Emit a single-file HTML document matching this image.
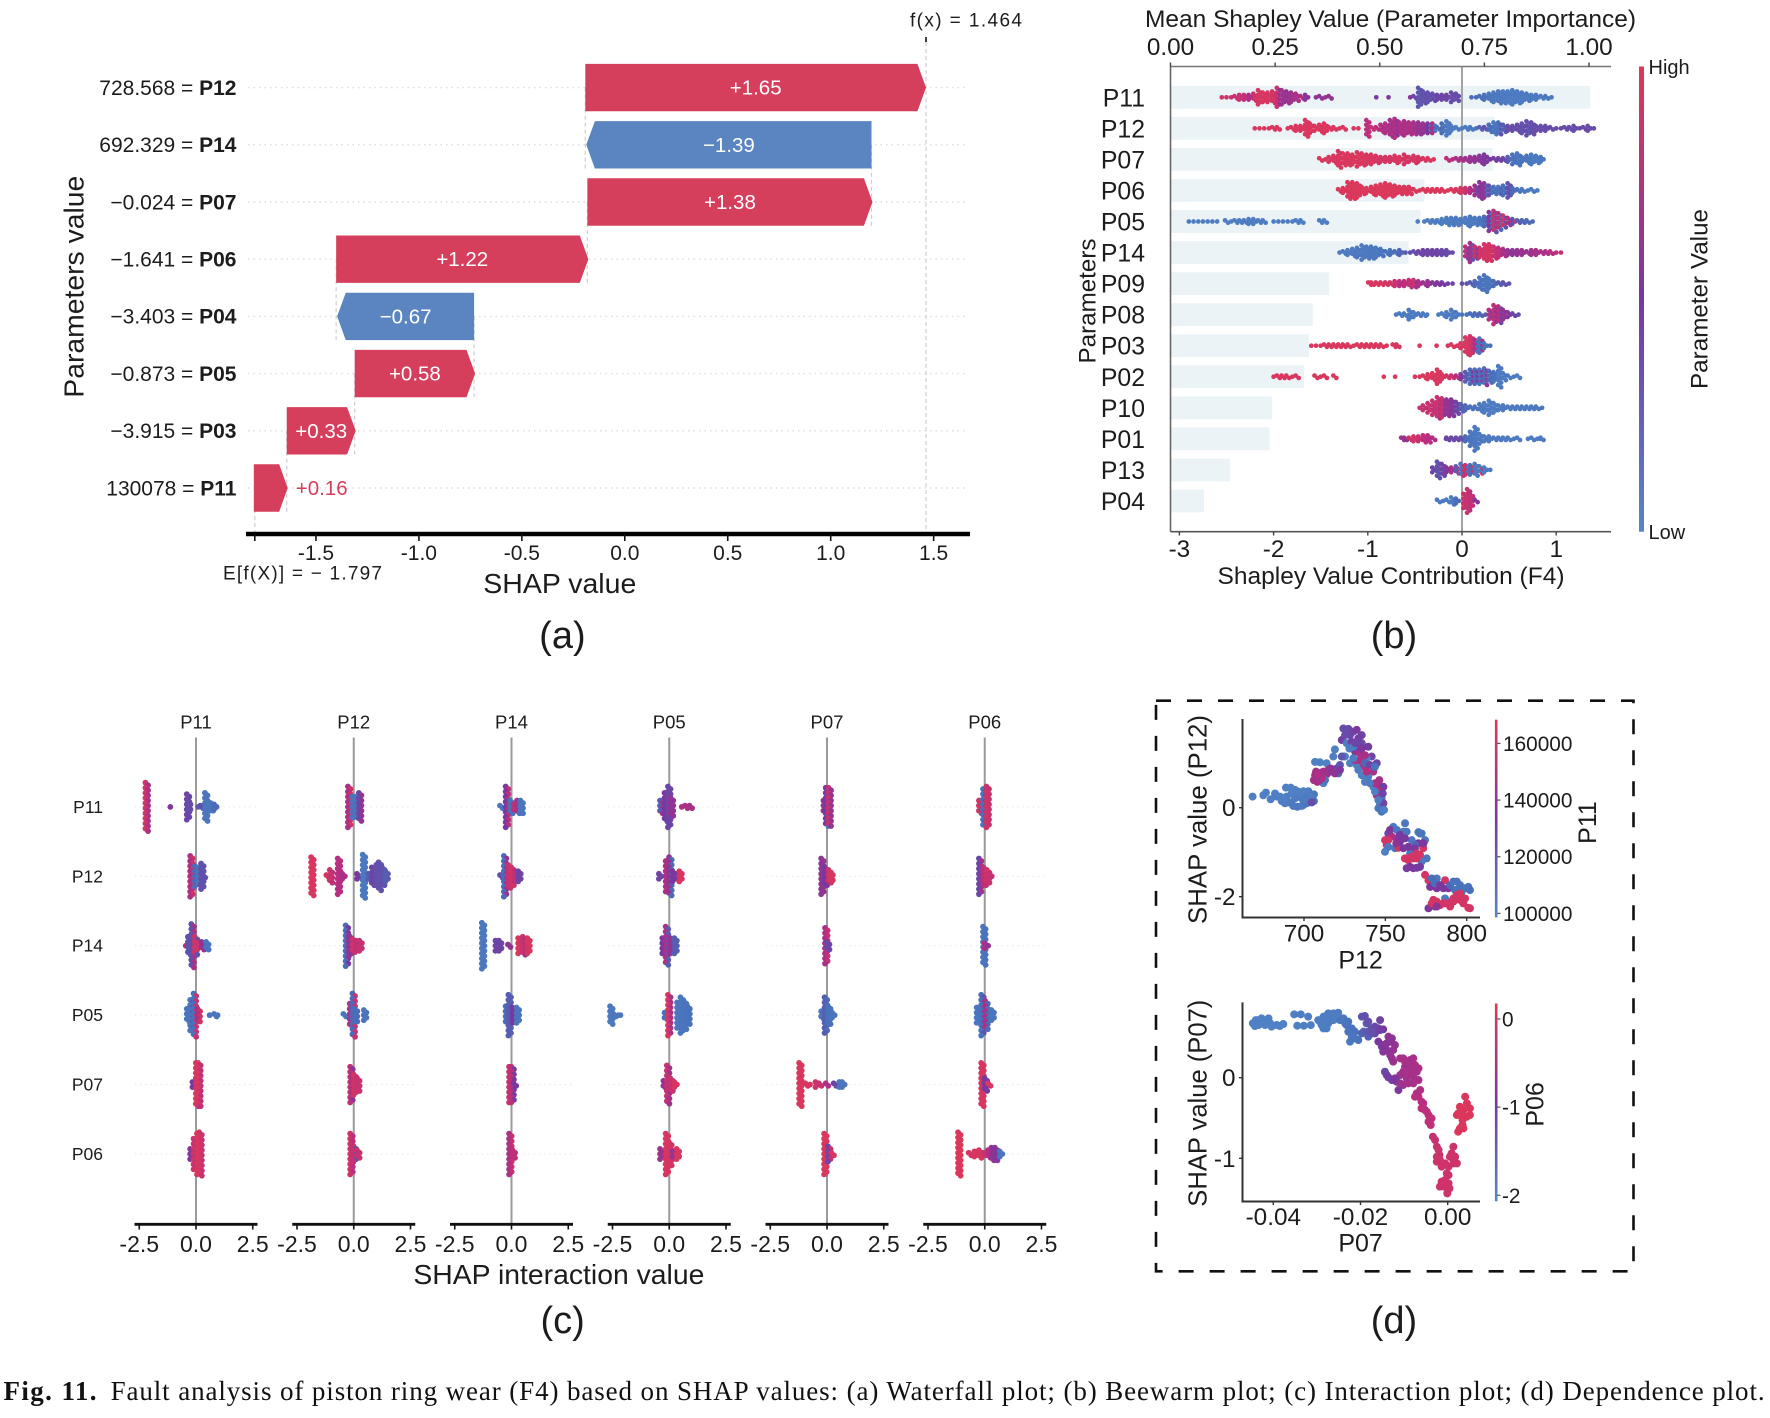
<!DOCTYPE html>
<html lang="en">
<head>
<meta charset="utf-8">
<title>Fault analysis of piston ring wear (F4) based on SHAP values</title>
<style>
html,body{margin:0;padding:0;background:#fff}
svg{display:block}
text{font-family:"Liberation Sans",Arial,sans-serif;fill:#1c1c1c}
.serif{font-family:"Liberation Serif","Times New Roman",serif;fill:#111}
</style>
</head>
<body>
<svg id="fig" xmlns="http://www.w3.org/2000/svg" width="1770" height="1418" viewBox="0 0 1770 1418">
<defs>
<linearGradient id="cbar" x1="0" y1="1" x2="0" y2="0">
<stop offset="0" stop-color="#5885c4"/><stop offset="0.5" stop-color="#7838a0"/><stop offset="1" stop-color="#de3858"/>
</linearGradient>
</defs>
<g id="panel-a">
<text transform="translate(83.5,286.7) rotate(-90)" text-anchor="middle" font-size="28" textLength="222" lengthAdjust="spacingAndGlyphs">Parameters value</text>
<text x="559.8" y="593" text-anchor="middle" font-size="28" textLength="153" lengthAdjust="spacingAndGlyphs">SHAP value</text>
<text x="910" y="26.5" font-size="19" textLength="112">f(x) = 1.464</text>
<text x="223" y="579.5" font-size="19" textLength="159">E[f(X)] = − 1.797</text>
<text x="562.4" y="648" text-anchor="middle" font-size="38">(a)</text>
</g>
<g id="panel-b">
<text x="1145" y="27" font-size="24" textLength="491" lengthAdjust="spacingAndGlyphs">Mean Shapley Value (Parameter Importance)</text>
<text transform="translate(1095.3,301) rotate(-90)" text-anchor="middle" font-size="24" textLength="125" lengthAdjust="spacingAndGlyphs">Parameters</text>
<text x="1217.5" y="584" font-size="24" textLength="347" lengthAdjust="spacingAndGlyphs">Shapley Value Contribution (F4)</text>
<rect x="1639" y="66.5" width="5" height="465.2" fill="url(#cbar)"/>
<text x="1648.5" y="74" font-size="20">High</text>
<text x="1648.5" y="539" font-size="20">Low</text>
<text transform="translate(1707.4,299) rotate(-90)" text-anchor="middle" font-size="24" textLength="180" lengthAdjust="spacingAndGlyphs">Parameter Value</text>
<text x="1394" y="648" text-anchor="middle" font-size="38">(b)</text>
</g>
<g id="panel-c">
<text x="413.4" y="1284" font-size="28" textLength="291" lengthAdjust="spacingAndGlyphs">SHAP interaction value</text>
<text x="562.7" y="1333" text-anchor="middle" font-size="38">(c)</text>
</g>
<g id="panel-d">
<rect x="1156" y="700.7" width="477.5" height="570.6" fill="none" stroke="#111" stroke-width="2.6" stroke-dasharray="15 16"/>
<text transform="translate(1206.4,819.5) rotate(-90)" text-anchor="middle" font-size="26" textLength="209" lengthAdjust="spacingAndGlyphs">SHAP value (P12)</text>
<text x="1360.6" y="968.5" text-anchor="middle" font-size="25">P12</text>
<rect x="1494.9" y="719.7" width="2.6" height="197.7" fill="url(#cbar)"/>
<text transform="translate(1596,822.5) rotate(-90)" text-anchor="middle" font-size="25">P11</text>
<text transform="translate(1206.4,1103.2) rotate(-90)" text-anchor="middle" font-size="26" textLength="207" lengthAdjust="spacingAndGlyphs">SHAP value (P07)</text>
<text x="1360.6" y="1251.5" text-anchor="middle" font-size="25">P07</text>
<rect x="1494.9" y="1003.5" width="2.6" height="197.8" fill="url(#cbar)"/>
<text transform="translate(1543.6,1104.4) rotate(-90)" text-anchor="middle" font-size="25">P06</text>
<text x="1394" y="1333" text-anchor="middle" font-size="38">(d)</text>
</g>
<text class="serif" x="3.5" y="1400" font-size="27" font-weight="bold" textLength="93">Fig. 11.</text>
<text class="serif" x="110.6" y="1400" font-size="27" textLength="1654" lengthAdjust="spacing">Fault analysis of piston ring wear (F4) based on SHAP values: (a) Waterfall plot; (b) Beewarm plot; (c) Interaction plot; (d) Dependence plot.</text>
</svg>
<script>
/* ---------- (a) waterfall data ---------- */
const wfFeatures=['P12','P14','P07','P06','P04','P05','P03','P11'];
const wfFeatureValues=['728.568','692.329','−0.024','−1.641','−3.403','−0.873','−3.915','130078'];
const wfContrib=[1.65,-1.39,1.38,1.22,-0.67,0.58,0.33,0.16];
const wfBase=-1.797;
const wfTicks=[-1.5,-1,-0.5,0,0.5,1,1.5];
const wfTickLabels=['-1.5','-1.0','-0.5','0.0','0.5','1.0','1.5'];

/* ---------- (b) beeswarm data: [shap, dots in stack, hue, optional second hue] ---------- */
const beeNames=['P11','P12','P07','P06','P05','P14','P09','P08','P03','P02','P10','P01','P13','P04'];
const beeImportance=[1.003,0.775,0.77,0.607,0.598,0.569,0.379,0.34,0.331,0.319,0.243,0.237,0.142,0.08];
const beeBottomTicks=[-3,-2,-1,0,1];
const beeTopTicks=[0,0.25,0.5,0.75,1];
const beeTopLabels=['0.00','0.25','0.50','0.75','1.00'];
const beeP11=[[-2.55,1,.92],[-2.5,1,.88],[-2.45,1,.85],[-2.4,2,.85],[-2.35,3,.85],[-2.3,3,.8],[-2.25,3,.72],[-2.2,4,.88],[-2.15,7,.95],[-2.1,5,.95],[-2.05,5,.95],[-2,6,.92],[-1.95,9,.85,.6],[-1.9,7,.65],[-1.85,6,.62],[-1.8,5,.65],[-1.75,4,.7],[-1.7,2,.72],[-1.65,3,.55],[-1.55,1,.58],[-1.5,2,.6],[-1.45,1,.62],[-1.4,2,.6],[-.91,1,.5],[-.78,1,.5],[-.55,1,.55],[-.5,2,.45],[-.45,9,.38],[-.4,6,.4],[-.35,5,.4],[-.3,4,.42],[-.25,3,.45],[-.2,3,.45],[-.15,3,.45],[-.1,5,.42],[-.05,4,.42],[.1,1,.3],[.15,1,.3],[.2,2,.27],[.25,3,.25],[.3,4,.2],[.35,5,.18],[.4,6,.18],[.45,6,.15],[.5,6,.15],[.55,7,.15],[.6,6,.15],[.65,5,.15],[.7,4,.16],[.75,3,.16],[.8,3,.17],[.85,2,.17],[.9,2,.18],[.95,1,.18]];
const beeP12=[[-2.2,1,.97],[-2.15,1,.97],[-2.1,1,.97],[-2.05,1,.97],[-2,2,.97],[-1.95,2,.97],[-1.85,1,.97],[-1.8,2,.97],[-1.75,3,.97],[-1.7,3,.97],[-1.65,8,.97],[-1.6,5,.97],[-1.55,3,.97],[-1.5,4,.97],[-1.45,5,.97],[-1.4,2,.97],[-1.35,2,.97],[-1.3,1,.97],[-1.25,2,.97],[-1.15,1,.95],[-1.1,1,.95],[-1,8,.78],[-.95,2,.85],[-.9,2,.8],[-.85,4,.72],[-.8,5,.72],[-.75,8,.68],[-.7,9,.72,.55],[-.65,6,.72],[-.6,7,.7],[-.55,6,.72],[-.5,6,.68],[-.45,6,.62],[-.4,5,.6],[-.35,5,.5,.25],[-.3,5,.7,.2],[-.25,2,.25],[-.2,5,.3,.15],[-.15,7,.15],[-.1,3,.15],[-.05,2,.14],[0,1,.15],[.05,2,.16],[.1,2,.16],[.15,1,.2],[.2,2,.35],[.25,2,.4],[.3,4,.3],[.35,6,.22],[.4,6,.25,.4],[.45,4,.35],[.5,3,.42],[.55,3,.42],[.6,4,.42],[.65,5,.4],[.7,7,.42,.35],[.75,6,.42],[.8,3,.42],[.85,3,.42],[.9,3,.42],[.95,2,.42],[1,1,.42],[1.05,1,.42],[1.1,2,.42],[1.15,2,.42],[1.2,3,.42],[1.25,1,.42],[1.3,2,.42],[1.35,3,.42],[1.4,1,.42]];
const beeP07=[[-1.5,2,.97],[-1.45,1,.97],[-1.4,3,.97],[-1.35,4,.97],[-1.3,8,.97],[-1.25,6,.97],[-1.2,6,.97],[-1.15,5,.97],[-1.1,7,.97],[-1.05,6,.97],[-1,5,.96],[-.95,5,.95],[-.9,4,.95],[-.85,3,.93],[-.8,3,.93],[-.75,3,.93],[-.7,4,.95],[-.65,3,.97],[-.6,5,.93],[-.55,3,.93],[-.5,4,.95],[-.45,3,.93],[-.4,2,.95],[-.35,2,.97],[-.3,1,.97],[-.15,2,.8],[-.1,1,.75],[-.05,2,.7],[0,2,.68],[.05,2,.65],[.1,3,.62],[.15,3,.6],[.2,4,.55],[.25,5,.52],[.3,1,.5],[.35,2,.48],[.4,2,.46],[.45,2,.45],[.5,3,.35],[.55,5,.25],[.6,6,.2],[.65,3,.22],[.7,4,.2],[.75,5,.18],[.8,4,.18],[.85,3,.18]];
const beeP06=[[-1.3,2,.98],[-1.25,3,.98],[-1.2,8,.98],[-1.15,8,.98],[-1.1,7,.98],[-1.05,4,.98],[-1,3,.98],[-.95,4,.98],[-.9,5,.98],[-.85,6,.98],[-.8,7,.98],[-.75,6,.98],[-.7,5,.98],[-.65,4,.98],[-.6,4,.98],[-.55,4,.98],[-.5,2,.98],[-.45,1,.98],[-.4,2,.98],[-.35,2,.98],[-.3,2,.98],[-.25,2,.98],[-.2,2,.98],[-.15,1,.98],[-.1,2,.98],[-.05,2,.95],[0,3,.95],[.05,3,.85],[.1,3,.72],[.15,5,.65,.4],[.2,8,.55],[.25,7,.6,.25],[.3,5,.4,.2],[.35,4,.25],[.4,4,.22,.35],[.45,5,.28],[.5,7,.4],[.55,3,.3],[.6,2,.2],[.65,2,.18],[.7,1,.16],[.75,2,.16],[.8,1,.15]];
const beeP05=[[-2.9,1,.12],[-2.85,1,.12],[-2.8,1,.12],[-2.75,1,.12],[-2.7,1,.12],[-2.65,1,.12],[-2.6,1,.12],[-2.5,2,.12],[-2.45,1,.12],[-2.4,2,.12],[-2.35,2,.12],[-2.3,2,.12],[-2.25,3,.12],[-2.2,3,.12],[-2.15,2,.12],[-2.1,2,.12],[-2,1,.12],[-1.95,1,.12],[-1.9,1,.12],[-1.85,1,.12],[-1.8,1,.12],[-1.75,2,.12],[-1.7,2,.12],[-1.5,2,.12],[-1.45,2,.12],[-.47,1,.12],[-.4,1,.12],[-.35,2,.12],[-.3,2,.13],[-.25,2,.13],[-.2,3,.13],[-.15,4,.14],[-.1,4,.14],[-.05,4,.15],[0,3,.15],[.05,4,.15],[.1,5,.16],[.15,4,.17],[.2,4,.2],[.25,5,.3],[.3,9,.55,.25],[.35,10,.85,.4],[.4,8,.8,.3],[.45,6,.9,.4],[.5,4,.7],[.55,3,.4,.9],[.6,2,.35],[.65,2,.32],[.7,2,.3],[.75,1,.3]];
const beeP14=[[-1.3,1,.15],[-1.25,2,.15],[-1.2,3,.15],[-1.15,4,.16],[-1.1,5,.16],[-1.05,7,.17],[-1,6,.17],[-.95,6,.18],[-.9,5,.18],[-.85,4,.2],[-.8,2,.22],[-.75,3,.25],[-.7,2,.3],[-.65,3,.32],[-.6,1,.35],[-.55,1,.4],[-.5,2,.42],[-.45,2,.45],[-.4,3,.45],[-.35,3,.45],[-.3,3,.45],[-.25,3,.45],[-.2,3,.44],[-.15,3,.42],[-.1,1,.42],[.05,6,.8,.45],[.1,9,.65,.4],[.15,6,.9,.5],[.2,5,.9],[.25,8,.92],[.3,8,.93],[.35,6,.85],[.4,5,.78],[.45,4,.68],[.5,3,.6],[.55,3,.58],[.6,3,.6],[.65,3,.62],[.7,2,.65],[.75,3,.65],[.8,3,.68],[.85,2,.7],[.9,2,.72],[.95,2,.75],[1,1,.78],[1.05,1,.82]];
const beeP09=[[-.98,2,.95],[-.95,2,.95],[-.9,2,.95],[-.85,2,.95],[-.8,2,.93],[-.75,2,.9],[-.7,3,.85],[-.65,3,.75],[-.6,3,.78],[-.55,4,.82],[-.5,4,.85,.65],[-.45,3,.7],[-.4,2,.65],[-.35,3,.6],[-.3,2,.55],[-.25,2,.52],[-.2,2,.5],[-.15,1,.48],[-.1,1,.45],[0,1,.4],[.05,1,.38],[.1,2,.36],[.15,3,.3],[.2,6,.25],[.25,8,.22],[.3,5,.2],[.35,3,.3],[.4,2,.35],[.45,2,.38],[.5,1,.4]];
const beeP08=[[-.7,1,.14],[-.65,2,.14],[-.6,2,.14],[-.55,5,.14],[-.5,3,.14],[-.45,2,.14],[-.4,2,.14],[-.37,1,.14],[-.25,1,.13],[-.2,2,.13],[-.15,3,.13],[-.1,5,.12],[-.05,3,.14],[0,1,.2],[.05,1,.25],[.1,2,.28],[.15,2,.3],[.2,2,.32],[.25,1,.35],[.3,5,.75,.45],[.35,9,.8,.55],[.4,8,.75,.45],[.45,5,.6],[.5,3,.55],[.55,2,.45],[.6,1,.4]];
const beeP03=[[-1.6,1,.97],[-1.55,1,.97],[-1.5,1,.97],[-1.45,2,.97],[-1.4,2,.97],[-1.35,2,.97],[-1.3,2,.97],[-1.25,2,.97],[-1.2,2,.97],[-1.15,1,.97],[-1.1,2,.97],[-1.05,2,.97],[-1,2,.97],[-.95,2,.97],[-.9,2,.97],[-.85,2,.97],[-.8,1,.97],[-.72,2,.97],[-.68,2,.97],[-.45,1,.97],[-.27,1,.97],[-.15,1,.97],[-.1,2,.97],[-.05,1,.97],[0,3,.95],[.05,8,.95],[.1,9,.92,.85],[.15,6,.7,.25],[.2,7,.25,.7],[.25,3,.2],[.3,1,.25]];
const beeP02=[[-2,1,.97],[-1.95,2,.97],[-1.9,2,.97],[-1.85,2,.97],[-1.8,1,.97],[-1.75,2,.97],[-1.55,2,.97],[-1.5,1,.97],[-1.45,2,.97],[-1.35,2,.97],[-.83,1,.97],[-.71,1,.97],[-.5,1,.97],[-.45,1,.97],[-.4,2,.97],[-.35,3,.97],[-.3,4,.97],[-.25,7,.97],[-.2,3,.96],[-.15,2,.92],[-.1,2,.85],[-.05,2,.75],[0,3,.55],[.05,5,.35],[.1,7,.3,.6],[.15,7,.3,.5],[.2,7,.25,.65],[.25,8,.3,.6],[.3,6,.3],[.35,5,.25],[.4,10,.15],[.45,4,.15],[.5,2,.14],[.55,1,.13],[.6,2,.12]];
const beeP10=[[-.45,1,.85],[-.4,3,.85],[-.35,5,.85],[-.3,7,.85],[-.25,10,.87,.7],[-.2,9,.85,.6],[-.15,8,.6],[-.1,8,.55],[-.05,6,.45],[0,4,.35],[.05,3,.3],[.1,2,.25],[.15,2,.2],[.2,4,.18],[.25,5,.15],[.3,7,.13],[.35,5,.13],[.4,3,.14],[.45,3,.15],[.5,2,.15],[.55,2,.16],[.6,2,.16],[.65,2,.17],[.7,2,.17],[.75,2,.18],[.8,2,.18],[.85,1,.18]];
const beeP01=[[-.63,2,.65],[-.6,2,.6],[-.55,2,.9],[-.5,3,.92],[-.45,3,.85],[-.4,4,.78],[-.35,4,.75],[-.3,2,.72],[-.17,1,.45],[-.15,2,.45],[-.1,2,.43],[-.05,2,.42],[0,2,.4],[.05,3,.3],[.1,7,.2],[.15,11,.17],[.2,5,.16],[.25,3,.16],[.3,3,.15],[.35,2,.15],[.4,2,.15],[.45,2,.15],[.5,2,.15],[.55,1,.15],[.6,2,.15],[.7,1,.15],[.75,2,.15],[.8,1,.15],[.83,1,.15],[.85,2,.15]];
const beeP13=[[-.3,3,.45],[-.25,8,.4],[-.2,6,.45],[-.15,3,.55],[-.1,3,.7],[-.05,4,.35,.8],[0,6,.2,.85],[.05,5,.85,.2],[.1,5,.3,.85],[.15,6,.18],[.2,4,.16,.9],[.25,3,.15],[.3,1,.16]];
const beeP04=[[-.25,2,.15],[-.2,1,.15],[-.15,2,.15],[-.1,4,.15],[-.05,3,.3],[.03,7,.85],[.07,11,.88,.75],[.1,7,.82],[.15,2,.55]];
const beeRows=[beeP11,beeP12,beeP07,beeP06,beeP05,beeP14,beeP09,beeP08,beeP03,beeP02,beeP10,beeP01,beeP13,beeP04];

/* ---------- (c) interaction data: one array per row/column cell ---------- */
const intNames=['P11','P12','P14','P05','P07','P06'];
const intTicks=[-2.5,0,2.5];
const intTickLabels=['-2.5','0.0','2.5'];
const c11=[[-2.17,20,.9,.7],[-1.13,1,.55],[-.35,11,.45],[-.3,5,.42],[.1,1,.35],[.25,2,.4],[.45,12,.2],[.55,4,.2],[.7,4,.2],[.85,3,.3]];
const c12=[[-.2,17,.7,.9],[0,9,.3,.85],[.15,8,.2,.5],[.28,11,.4],[.35,2,.4]];
const c14=[[-.45,1,.7],[-.3,8,.4],[-.15,18,.4,.7],[0,8,.9,.4],[.15,3,.9],[.3,4,.6],[.5,4,.2]];
const c15=[[-.35,6,.2],[-.2,13,.2,.4],[-.05,18,.25,.85],[.12,6,.7,.9],[.6,1,.2],[.85,2,.2],[.95,1,.2]];
const c17=[[-.1,3,.5],[.05,18,.95,.85],[.15,18,.97,.8]];
const c16=[[-.2,5,.55],[-.05,13,.9,.6],[.1,17,.95],[.2,18,.95,.85]];
const c21=[[-.2,17,.7,.9],[0,9,.2,.85],[.1,9,.2],[.28,12,.45,.6]];
const c22=[[-1.82,16,.97],[-1.15,2,.95],[-1,6,.9,.8],[-.65,15,.75],[-.45,3,.7],[.2,3,.5],[.45,18,.18],[.7,3,.35],[.85,8,.45],[1.05,10,.4],[1.15,12,.4],[1.3,8,.4],[1.45,5,.35]];
const c24=[[-.3,17,.3,.5],[-.15,9,.6],[0,6,.9],[.15,5,.8],[.3,5,.85]];
const c25=[[-.4,2,.2],[-.12,10,.7,.9],[0,18,.3,.85],[.1,6,.3],[.5,5,.2]];
const c27=[[-.1,15,.8,.55],[.05,9,.9],[.2,6,.85]];
const c26=[[-.1,17,.9,.75],[.05,7,.85,.4],[.2,4,.85]];
const c41=[[-.45,2,.2],[-.2,17,.5,.8],[0,6,.25],[.15,3,.8],[.3,6,.7,.3],[.45,6,.2]];
const c42=[[-.45,2,.4],[-.28,17,.3,.6],[-.1,10,.85],[.05,8,.9],[.2,5,.8],[.35,5,.45]];
const c44=[[-1.25,19,.18],[-.65,5,.45],[-.5,5,.45],[-.1,2,.6],[.35,7,.95],[.55,8,.85,.6],[.75,7,.95]];
const c45=[[-.2,8,.3],[-.08,17,.35],[.1,7,.5],[.28,7,.2]];
const c47=[[-.05,15,.85,.65],[.05,15,.8,.5],[.15,2,.5]];
const c46=[[-.05,17,.7,.85],[.1,4,.8]];
const c51=[[-.35,6,.35,.7],[-.15,12,.5],[0,17,.45],[.12,8,.6],[.55,1,.72],[.75,2,.7],[.95,2,.68]];
const c52=[[-.4,3,.45],[-.1,13,.7,.85],[.05,16,.6,.3],[.2,5,.5],[.5,5,.95]];
const c54=[[-.25,7,.5],[-.1,16,.7,.35],[.1,7,.6],[.28,7,.35]];
const c55=[[-2.55,8,.18],[-2.4,2,.18],[-2.25,1,.18],[-2.15,1,.18],[-.15,3,.25],[0,17,.95,.7],[.4,11,.2],[.55,15,.2],[.7,12,.22],[.85,8,.25]];
const c57=[[-.2,4,.6],[-.05,16,.85,.65],[.1,6,.85],[.28,3,.95]];
const c56=[[-.35,5,.65],[-.1,17,.95],[.05,10,.93],[.2,3,.6],[.38,5,.95]];
const c71=[[-.1,6,.6],[0,16,.5,.2],[.12,16,.85,.6]];
const c72=[[-.2,15,.6],[-.05,8,.5],[.12,6,.9],[.2,4,.95]];
const c74=[[-.03,15,.7,.85],[.05,4,.45]];
const c75=[[-.2,4,.2],[-.05,15,.35,.3],[.1,8,.25],[.28,3,.2]];
const c77=[[-1.17,18,.97],[-.9,2,.95],[-.75,1,.95],[-.45,3,.9],[-.3,2,.85],[0,2,.7],[.35,2,.45],[.6,3,.2],[.72,3,.2]];
const c76=[[-.07,17,.97],[.1,7,.45,.85],[.25,2,.95]];
const c61=[[-.2,6,.9],[-.02,15,.25,.6],[.13,17,.9,.85]];
const c62=[[-.2,15,.45,.7],[0,8,.8],[.15,6,.9],[.25,3,.85]];
const c64=[[-.02,16,.2,.25],[.05,3,.7],[.15,1,.6]];
const c65=[[-.3,7,.2],[-.1,17,.25,.4],[.08,12,.7,.3],[.35,5,.2]];
const c67=[[-.1,18,.95],[.05,6,.5],[.2,2,.95]];
const c66=[[-1.12,18,.98],[-.65,2,.95],[-.4,3,.95],[-.2,4,.95],[0,2,.85],[.2,4,.75],[.35,6,.6],[.5,6,.55],[.72,3,.2]];
const intColumnP11=[c11,c12,c14,c15,c17,c16];
const intColumnP12=[c21,c22,c24,c25,c27,c26];
const intColumnP14=[c41,c42,c44,c45,c47,c46];
const intColumnP05=[c51,c52,c54,c55,c57,c56];
const intColumnP07=[c71,c72,c74,c75,c77,c76];
const intColumnP06=[c61,c62,c64,c65,c67,c66];
const intColumns=[intColumnP11,intColumnP12,intColumnP14,intColumnP05,intColumnP07,intColumnP06];

/* ---------- (d) dependence data ---------- */
const depTopXTicks=[700,750,800];
const depTopYTicks=[0,-2];
const depTopCbarTicks=[160000,140000,120000,100000];
const depP12=[668.4,675,676.6,679.5,682.2,683.2,686.3,688.9,691.8,689.3,691.4,695.9,696.5,699.6,702.7,706.1,706.1,702.7,699.6,694.5,688.3,698.6,703.7,
706.8,709.8,713.9,719,718,724.2,711.9,
706.8,707.8,709.8,711.9,713.9,716,718,720.1,722.1,709.8,712.9,707.4,710.9,715,721.1,
725.8,724.2,727.3,723.2,730.3,732.4,726.2,729.3,732.4,735.5,735.5,739.5,731.4,734.4,725.2,728.3,732.4,736.5,741.6,738.5,744.7,742.6,739.5,737.5,742.6,745.7,748.8,744.7,747.7,746.7,747.7,745.7,748.8,743.6,746.7,735.5,731.4,737.5,730.3,
749.8,750.8,751.8,754.9,762.1,757,761.1,749.8,755.9,758,761.1,766.2,771.3,770.3,772.3,770.3,774.4,765.2,764.1,767.2,771.3,775.4,772.3,763.1,767.2,771.3,753.9,759,764.1,773.3,
774.4,776.5,781.6,777.5,781.6,786.7,793.9,801,788.7,792.8,796.9,802,779.5,783.6,789.8,776.5,780.5,801,795.8,786.7,791.9,799,793.9,785.7,
685.2,692.4,694.5,690.4,693.4,698.6,701.6,704.7,702.7,697.5,700.6,704.7,687.3,
708.8,710.9,713.5,716.4,719,722.1,706.1,708.2,711.9,723.2,
728.3,725.2,733.4,731.4,727.9,734.4,737.5,740.5,743.6,733.4,738.5,740.5,743.6,746.3,748.4,745.7,749.2,730.3,735.5,
751.8,752.9,757,759,763.1,762.1,756.7,751.8,768.2,768.2,773.4,766.2,769.3,762,769.3,765.2,769.3,
778.5,780.5,783.6,785.7,789.8,795.9,799,791.8,781.6,786.7,791.8,795.9,797.9,790.8,778.5,781.6,802];
const depP12Shap=[.25,.28,.34,.19,.32,.25,.15,.45,.45,.25,.12,.02,.36,.37,.37,.30,.15,.12,.06,.21,.10,.21,.17,
1.03,1.02,1,1.31,1.15,1.15,.55,
.73,.66,.70,.73,.75,.81,.85,.88,.96,.62,.62,.81,.79,.85,.77,
1.75,1.78,1.77,1.52,1.71,1.75,1.45,1.48,1.37,1.63,1.45,1.37,1.26,1.22,1.15,1,.96,.92,1.15,1.11,1,.81,.70,.58,.47,.51,.47,.28,.21,.06,-.09,-.01,.10,.55,.37,.73,1.07,1.18,1.37,
-.73,-.84,-.58,-.43,-.35,-.69,-.54,-.99,-.91,-.90,-.91,-.73,-.58,-.55,-.58,-.80,-.73,-1.03,-1.18,-1.14,-1.06,-1.14,-1.21,-1.36,-1.36,-1.33,-.65,-.76,-.88,-.91,
-1.51,-1.63,-1.59,-1.78,-1.81,-1.63,-1.66,-1.78,-1.81,-1.85,-1.89,-1.85,-2.07,-2.19,-2.22,-2.26,-2.22,-2.25,-2.07,-2.04,-2.11,-2.04,-1.96,-2.15,
.25,.32,.40,.12,.04,.04,.10,.28,.25,.32,.22,.12,.21,
.75,.66,.81,.88,.77,.85,.62,.58,.81,1.15,
1.63,1.63,1.56,1.45,1.33,1.07,1,.96,.92,.85,.81,.55,.36,.62,.32,.17,-.05,1.11,1.33,
-.73,-.50,-.50,-.61,-.54,-.69,-.80,-.88,-.84,-.91,-.80,-1.10,-1.14,-1.14,-1.03,-1.33,-1.35,
-1.59,-1.70,-1.74,-1.81,-1.74,-1.74,-1.81,-1.66,-2.11,-2.15,-2.04,-1.93,-2.15,-2.11,-2.15,-2.22,-2.26];
const depP12Hue=[104000,104000,104000,106000,104000,106000,108000,104000,104000,108000,108000,112000,104000,104000,106000,112000,116000,118000,114000,108000,108000,110000,125000,
104000,104000,104000,104000,104000,104000,106000,
148000,135000,145000,140000,146000,135000,142000,130000,125000,138000,112000,145000,150000,142000,120000,
130000,128000,128000,132000,130000,135000,108000,132000,145000,130000,128000,132000,135000,148000,106000,104000,104000,148000,130000,106000,130000,146000,108000,106000,106000,146000,132000,146000,110000,112000,114000,112000,130000,148000,148000,104000,150000,146000,108000,
163000,162000,130000,110000,112000,134000,110000,104000,112000,163000,134000,112000,114000,114000,114000,134000,112000,112000,163000,163000,163000,112000,110000,133000,133000,133000,148000,134000,134000,163000,
163000,163000,112000,135000,135000,163000,115000,116000,135000,116000,118000,118000,163000,163000,163000,135000,135000,163000,163000,110000,163000,163000,163000,163000,
106000,104000,104000,108000,110000,110000,112000,108000,106000,104000,108000,128000,106000,
150000,148000,145000,140000,140000,135000,146000,146000,145000,125000,
130000,128000,132000,130000,108000,148000,120000,130000,115000,106000,150000,108000,106000,146000,130000,108000,106000,108000,135000,
163000,135000,112000,133000,112000,133000,140000,110000,120000,135000,135000,163000,163000,163000,163000,135000,133000,
118000,118000,135000,135000,120000,116000,116000,116000,163000,163000,163000,163000,163000,163000,163000,140000,163000];
const depBottomXTicks=[-0.04,-0.02,0];
const depBottomXLabels=['-0.04','-0.02','0.00'];
const depBottomYTicks=[0,-1];
const depBottomCbarTicks=[0,-1,-2];
const depP07=[-.0447,-.0440,-.0434,-.0427,-.0419,-.0411,-.0404,-.0392,-.0377,-.0442,-.0423,-.0352,-.0337,-.0320,-.0345,-.0330,-.0314,-.0297,-.0285,-.0274,-.0262,-.0251,-.0289,-.0278,-.0266,-.0255,-.0281,-.0271,-.0239,-.0228,-.0220,-.0213,-.0224,-.0205,-.0216,-.0232,-.0197,-.0190,-.0186,-.0174,-.0155,-.0159,-.0148,-.0182,-.0193,-.0167,-.0159,-.0148,-.0136,-.0128,-.0148,-.0132,-.0121,-.0125,-.0102,-.0086,-.0075,-.0067,-.0098,-.0083,-.0067,-.0109,-.0094,-.0079,-.0102,-.0144,-.0140,-.0128,-.0117,-.0113,-.0071,-.0075,-.0060,-.0052,-.0044,-.0039,-.0056,-.0037,-.0034,-.0025,-.0019,-.0025,-.0014,.0013,.0009,.0021,.0002,-.0002,-.0014,.0002,-.0018,-.0001,.0013,.0040,.0028,.0051,.0021,.0044,.0036,.0034,.0024,.0036,
-.0430,-.0407,-.0385,-.0434,-.0293,-.0285,-.0274,-.0262,-.0278,-.0266,-.0258,-.0285,-.0247,-.0235,-.0228,-.0220,-.0213,-.0197,-.0182,-.0167,-.0182,-.0174,-.0155,-.0151,-.0140,-.0132,-.0140,-.0125,-.0128,-.0109,-.0098,-.0086,-.0079,-.0071,-.0090,-.0102,-.0079,-.0090,-.0109,-.0136,-.0121,-.0063,-.0067,-.0056,-.0060,-.0048,-.0041,-.0044,-.0029,-.0021,-.0025,-.0018,-.0006,.0005,.0017,.0013,.0002,-.0006,-.0008,.0004,.0044,.0024,.0032,.0051,.0028,.0034];
const depP07Shap=[.674,.715,.654,.736,.654,.736,.633,.654,.666,.641,.695,.786,.786,.757,.645,.645,.653,.715,.757,.798,.798,.806,.653,.612,.715,.736,.707,.736,.736,.695,.612,.571,.447,.467,.509,.653,.757,.765,.674,.612,.715,.612,.600,.509,.571,.550,.447,.405,.509,.488,.323,.281,.405,.199,.240,.219,.157,.116,.136,.074,-.029,.033,-.008,-.070,-.091,.074,.033,-.029,-.050,-.153,-.194,-.236,-.298,-.401,-.463,-.587,-.380,-.505,-.732,-.856,-.959,-1.042,-1.104,-.856,-.939,-1.063,-1.104,-1.187,-1.290,-1.311,-1.352,-1.435,-1.021,-.236,-.360,-.380,-.463,-.484,-.401,-.587,-.670,-.629,
.674,.674,.641,.715,.695,.674,.674,.715,.757,.778,.757,.612,.715,.674,.571,.509,.488,.550,.571,.633,.695,.550,.591,.385,.426,.447,.343,.343,.240,.240,.199,.157,.240,.074,.074,.074,.012,-.070,-.070,.004,-.008,-.153,-.236,-.318,-.380,-.422,-.525,-.546,-.773,-.897,-.980,-1.021,-1.063,-.980,-.980,-1.063,-1.208,-1.270,-1.352,-1.373,-.318,-.443,-.463,-.463,-.629,-.525];
const depP07Hue=[-1.95,-1.95,-1.95,-1.95,-1.95,-1.95,-1.95,-1.95,-1.95,-1.95,-1.95,-1.9,-1.9,-1.9,-1.9,-1.9,-1.9,-1.85,-1.85,-1.85,-1.85,-1.85,-1.85,-1.8,-1.85,-1.8,-1.85,-1.85,-1.65,-1.6,-1.6,-1.55,-1.75,-1.6,-1.65,-1.55,-1.25,-1.2,-1.3,-1.25,-1.1,-1.1,-1,-1.35,-1.35,-1.1,-1,-.9,-.8,-.8,-.9,-.75,-.75,-.7,-.6,-.6,-.55,-.55,-.65,-.6,-.6,-.7,-.65,-.6,-.65,-1.15,-1.1,-1.05,-1,-.95,-.5,-.45,-.45,-.4,-.35,-.35,-.4,-.35,-.25,-.2,-.2,-.15,-.15,-.15,-.15,-.1,-.15,-.15,-.15,-.12,-.15,-.12,-.1,.05,.05,.05,.05,.05,.05,.05,.05,.05,
-1.95,-1.95,-1.95,-1.95,-1.85,-1.85,-1.85,-1.85,-1.85,-1.85,-1.85,-1.85,-1.7,-1.65,-1.6,-1.65,-1.6,-1.35,-1.25,-1.15,-1.2,-1.2,-1.05,-.95,-.85,-.85,-.85,-.75,-.75,-.6,-.6,-.6,-.6,-.6,-.6,-.6,-.6,-.6,-.7,-1.05,-.95,-.5,-.45,-.45,-.4,-.4,-.35,-.35,-.25,-.2,-.2,-.15,-.15,-.15,-.15,-.15,-.15,-.15,-.15,-.12,.05,.05,.05,.05,.05,.05];

/* ---------- helpers ---------- */
const svg=document.getElementById('fig');
const NS='http://www.w3.org/2000/svg';
function mk(tag,attrs,parent){
  const el=document.createElementNS(NS,tag);
  for(const k in attrs) el.setAttribute(k,attrs[k]);
  (parent||svg).appendChild(el);
  return el;
}
function lineEl(parent,x1,y1,x2,y2,stroke,w,dash){
  const a={x1:x1,y1:y1,x2:x2,y2:y2,stroke:stroke,'stroke-width':w};
  if(dash) a['stroke-dasharray']=dash;
  return mk('line',a,parent);
}
function textEl(parent,x,y,str,size,anchor,extra){
  const t=mk('text',Object.assign({x:x,y:y,'font-size':size,'text-anchor':anchor||'middle'},extra||{}),parent);
  t.textContent=str;
  return t;
}
function hueColor(t){
  t=Math.max(0,Math.min(1,t));
  const pos=[0,.28,.5,.75,1];
  const ramp=[[82,134,200],[72,112,186],[120,56,160],[184,46,128],[222,56,88]];
  let s=0;
  while(s<pos.length-2&&t>pos[s+1]) s++;
  const u=(t-pos[s])/(pos[s+1]-pos[s]);
  return 'rgb('+[0,1,2].map(i=>Math.round(ramp[s][i]+(ramp[s+1][i]-ramp[s][i])*u)).join(',')+')';
}

/* ---------- (a) waterfall ---------- */
const gA=document.getElementById('panel-a');
const xA=v=>624.8+205.9*v;
const yA=i=>87.6+57.2*i;
const axisYA=534;
const wfEnd=[];
(function(){
  let cur=wfBase+wfContrib.reduce((s,v)=>s+v,0);
  wfContrib.forEach(function(c){ wfEnd.push(cur); cur-=c; });
})();
const fxValue=wfEnd[0];
wfFeatures.forEach(function(f,i){
  const g=lineEl(gA,248,yA(i),966,yA(i),'#dcdcdc',1.4,'1.5 4');
  
  
});
{
  const l1=lineEl(gA,xA(fxValue),42,xA(fxValue),axisYA,'#cfcfcf',1.2,'4 3');
  
  
  const l2=lineEl(gA,xA(wfBase),yA(7),xA(wfBase),axisYA,'#cfcfcf',1.2,'4 3');
  
  
  const l3=lineEl(gA,xA(fxValue),37,xA(fxValue),42,'#111',1.6);
  
  
}
wfFeatures.forEach(function(f,i){
  const end=wfEnd[i],c=wfContrib[i],start=end-c,y=yA(i),h=23.7,head=8.6;
  const x0=xA(start)-1,x1=xA(end),dir=c>0?1:-1;
  const body=x1-dir*head;
  if(i<wfFeatures.length-1){
    const con=lineEl(gA,x0,y,x0,yA(i+1)+h,'#cfcfcf',1.2,'4 3');
    
    
  }
  const bar=mk('polygon',{points:[[x0,y-h],[body,y-h],[x1,y],[body,y+h],[x0,y+h]].map(p=>p.join(',')).join(' '),fill:c>0?'#d53f5c':'#5a85c1'},gA);
  
  
  const label=(c>0?'+':'−')+Math.abs(c).toFixed(2);
  const inside=Math.abs(x1-x0)>40;
  const t=inside?textEl(gA,(x0+x1)/2,y+7,label,20.5,'middle',{style:'fill:#fff'}):textEl(gA,x1+8,y+7,label,20.5,'start',{style:'fill:#d53f5c'});
  
  
  const lab=mk('text',{x:236.5,y:y+7.3,'font-size':21,'text-anchor':'end'},gA);
  
  
  lab.appendChild(document.createTextNode(wfFeatureValues[i]+' = '));
  const bold=mk('tspan',{'font-weight':'bold'},lab);
  bold.textContent=f;
});
{
  const ax=lineEl(gA,246,axisYA,970,axisYA,'#000',4.6);
  
  
  const bt=lineEl(gA,xA(wfBase),axisYA,xA(wfBase),541,'#111',1.6);
  
  
}
wfTicks.forEach(function(v,i){
  const t=lineEl(gA,xA(v),axisYA,xA(v),541,'#111',1.6);
  
  
  const l=textEl(gA,xA(v),560,wfTickLabels[i],21);
  
  
});

/* ---------- (b) beeswarm ---------- */
const gB=document.getElementById('panel-b');
const xB=v=>1462+94.2*v;
const xBTop=v=>1170.5+418.5*v;
const yB=i=>97.3+31.05*i;
beeNames.forEach(function(n,i){
  const b=mk('rect',{x:xBTop(0),y:yB(i)-11.4,width:xBTop(beeImportance[i])-xBTop(0),height:22.8,fill:'#ebf3f7'},gB);
  
  
  const l=textEl(gB,1145,yB(i)+9,n,24.8,'end');
  
  
});
{
  const z=lineEl(gB,xB(0),66.5,xB(0),531.7,'#a3a3a3',2);
  
  
  const s1=lineEl(gB,1170.5,66.5,1611,66.5,'#777',1.4);
  
  
  const s2=lineEl(gB,1170.5,531.7,1611,531.7,'#555',1.6);
  
  
  const s3=lineEl(gB,1170.5,66.5,1170.5,531.7,'#666',1.6);
  
  
}
beeTopTicks.forEach(function(v,i){
  const t=lineEl(gB,xBTop(v),62.5,xBTop(v),66.5,'#444',1.4);
  
  
  const l=textEl(gB,xBTop(v),55,beeTopLabels[i],24.3);
  
  
});
beeBottomTicks.forEach(function(v){
  const t=lineEl(gB,xB(v),531.7,xB(v),535.5,'#444',1.4);
  
  
  const l=textEl(gB,xB(v),557,String(v),24.3);
  
  
});
beeRows.forEach(function(cols,i){
  const g=mk('g',{},gB);
  
  
  cols.forEach(function(c){
    for(let k=0;k<c[1];k++){
      const dy=(k-(c[1]-1)/2)*2.35;
      const dx=c[1]>1?(k%2?1.5:-1.5):0;
      const h=(c[3]!==undefined&&k%2)?c[3]:c[2];
      const d=mk('circle',{cx:xB(c[0])+dx,cy:yB(i)+dy,r:2.35,fill:hueColor(h)},g);
      
      
    }
  });
});

/* ---------- (c) interaction small multiples ---------- */
const gC=document.getElementById('panel-c');
const xC=(col,v)=>196+157.75*col+22.7*v;
const yC=i=>806.9+69.42*i;
function rowKey(r){return intNames[r].toLowerCase();}
intNames.forEach(function(n,i){
  const l=textEl(gC,103,yC(i)+6,n,17.5,'end');
  
  
});
intNames.forEach(function(n,col){
  const t=textEl(gC,xC(col,0),728.5,n,18.5);
  
  
  intNames.forEach(function(m,r){
    const g=lineEl(gC,xC(col,0)-61,yC(r),xC(col,0)+60,yC(r),'#e2e2e2',1,'1.2 4');
    
    
  });
  const z=lineEl(gC,xC(col,0),737.5,xC(col,0),1224.3,'#9a9a9a',2);
  
  
  const ax=lineEl(gC,xC(col,0)-61.5,1224.3,xC(col,0)+61.5,1224.3,'#111',2.8);
  
  
  intTicks.forEach(function(v,j){
    const tk=lineEl(gC,xC(col,v),1224.3,xC(col,v),1229.5,'#111',1.6);
    
    
    const tl=textEl(gC,xC(col,v),1252,intTickLabels[j],23);
    
    
  });
  intColumns[col].forEach(function(cell,r){
    const g=mk('g',{},gC);
    
    
    cell.forEach(function(c){
      for(let k=0;k<c[1];k++){
        const dy=(k-(c[1]-1)/2)*2.55;
        const dx=c[1]>1?(k%2?1.3:-1.3):0;
        const h=(c[3]!==undefined&&k%2)?c[3]:c[2];
        const d=mk('circle',{cx:xC(col,c[0])+dx,cy:yC(r)+dy,r:2.9,fill:hueColor(h)},g);
        
        
      }
    });
  });
});

/* ---------- (d) dependence plots ---------- */
const gD=document.getElementById('panel-d');
const xD1=v=>1304+1.627*(v-700);
const yD1=v=>807.7-44.5*v;
const cD1=v=>(v-99000)/69000;
const yCb1=v=>913.4-(v-100000)*(170/60000);
const xD2=v=>1447.7+4360*v;
const yD2=v=>1077.7-80.6*v;
const cD2=v=>(v+2.1)/2.2;
const yCb2=v=>1019-88.15*v;
function spines(top,bottom){
  const a=lineEl(gD,1242.5,top,1242.5,bottom,'#333',2);
  
  
  const b=lineEl(gD,1241.5,bottom,1480,bottom,'#333',2);
  
  
}
spines(719,917.5);
spines(1002.4,1201.5);
depTopXTicks.forEach(function(v){
  const t=lineEl(gD,xD1(v),917.5,xD1(v),921,'#333',1.4);
  
  
  const l=textEl(gD,xD1(v),941.5,String(v),24.3);
  
  
});
depTopYTicks.forEach(function(v){
  const t=lineEl(gD,1239,yD1(v),1242.5,yD1(v),'#333',1.4);
  
  
  const l=textEl(gD,1235.5,yD1(v)+8.5,String(v),24.3,'end');
  
  
});
depTopCbarTicks.forEach(function(v){
  const t=lineEl(gD,1497.5,yCb1(v),1500.5,yCb1(v),'#555',1.2);
  
  
  const l=textEl(gD,1503,yCb1(v)+7.5,String(v),20.8,'start');
  
  
});
depBottomXTicks.forEach(function(v,i){
  const t=lineEl(gD,xD2(v),1201.5,xD2(v),1205,'#333',1.4);
  
  
  const l=textEl(gD,xD2(v),1225,depBottomXLabels[i],24.3);
  
  
});
depBottomYTicks.forEach(function(v){
  const t=lineEl(gD,1239,yD2(v),1242.5,yD2(v),'#333',1.4);
  
  
  const l=textEl(gD,1235.5,yD2(v)+8.5,String(v),24.3,'end');
  
  
});
depBottomCbarTicks.forEach(function(v){
  const t=lineEl(gD,1497.5,yCb2(v),1500.5,yCb2(v),'#555',1.2);
  
  
  const l=textEl(gD,1502,yCb2(v)+7.5,String(v),20.8,'start');
  
  
});
depP12.forEach(function(v,i){
  const d=mk('circle',{cx:xD1(v),cy:yD1(depP12Shap[i]),r:4,fill:hueColor(cD1(depP12Hue[i]))},gD);
  
  
});
depP07.forEach(function(v,i){
  const d=mk('circle',{cx:xD2(v),cy:yD2(depP07Shap[i]),r:4,fill:hueColor(cD2(depP07Hue[i]))},gD);
  
  
});
</script>
</body>
</html>
